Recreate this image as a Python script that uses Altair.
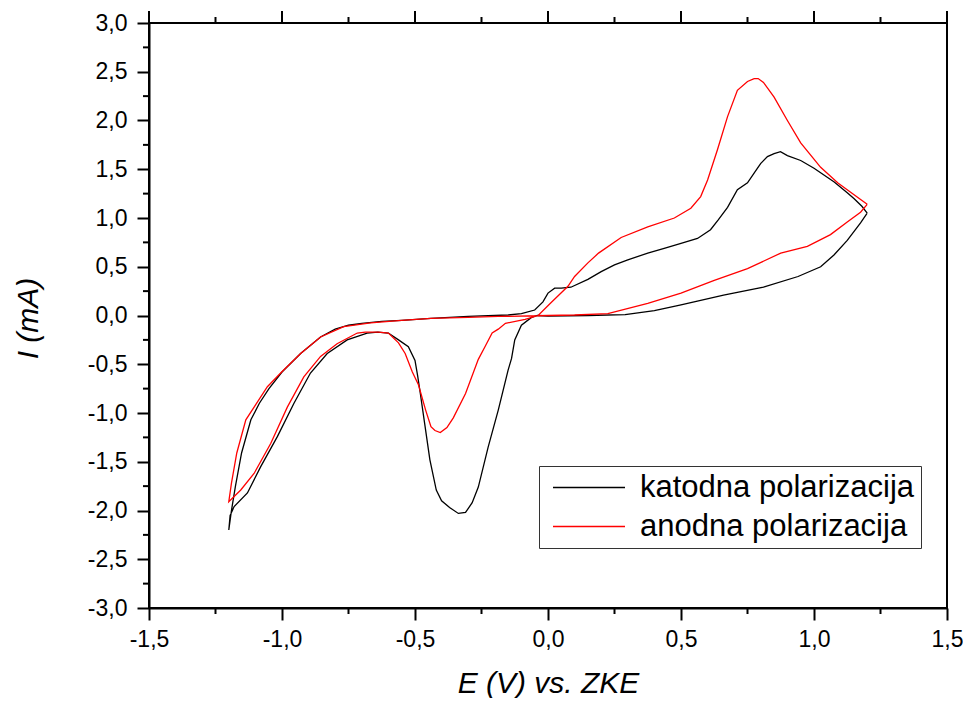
import altair as alt
import pandas as pd

series_names = ["katodna polarizacija", "anodna polarizacija"]
series_colors = ["#000000", "#ff0000"]

# katodna polarizacija (black) - path order around the loop
kat_E = [1.20, 1.18, 1.15, 1.125, 1.076, 1.00, 0.95, 0.90, 0.874, 0.85, 0.825, 0.80, 0.787, 0.75, 0.712,
         0.675, 0.64, 0.611, 0.562, 0.50, 0.44, 0.375, 0.30, 0.25, 0.20, 0.15, 0.086, 0.05, 0.025, 0.0,
         -0.019, -0.05, -0.10, -0.15, -0.30, -0.44, -0.55, -0.625, -0.70, -0.75, -0.80, -0.855, -0.93,
         -1.0, -1.049, -1.085, -1.117, -1.152, -1.175, -1.19, -1.20,
         -1.195, -1.18, -1.13, -1.08, -1.017, -0.955, -0.893, -0.83, -0.755, -0.68, -0.64, -0.60, -0.562,
         -0.525, -0.50, -0.49, -0.48, -0.462, -0.444, -0.42, -0.40, -0.37, -0.337, -0.31, -0.285, -0.262,
         -0.225, -0.187, -0.15, -0.137, -0.125, -0.10, -0.062, -0.04, 0.0, 0.15, 0.29, 0.40, 0.50, 0.66,
         0.81, 0.94, 1.025, 1.075, 1.125, 1.175, 1.20]
kat_I = [1.05, 1.12, 1.20, 1.26, 1.37, 1.51, 1.59, 1.64, 1.68, 1.66, 1.63, 1.56, 1.51, 1.36, 1.29,
         1.11, 0.98, 0.88, 0.79, 0.74, 0.69, 0.64, 0.57, 0.52, 0.45, 0.37, 0.29, 0.28, 0.28, 0.23,
         0.14, 0.056, 0.02, 0.005, -0.01, -0.03, -0.05, -0.06, -0.08, -0.10, -0.14, -0.22, -0.39,
         -0.58, -0.75, -0.90, -1.07, -1.41, -1.75, -2.0, -2.2,
         -2.05, -1.96, -1.82, -1.55, -1.24, -0.90, -0.59, -0.39, -0.25, -0.18, -0.17, -0.18, -0.25,
         -0.32, -0.46, -0.62, -0.80, -1.14, -1.48, -1.79, -1.90, -1.97, -2.03, -2.02, -1.92, -1.76,
         -1.35, -0.97, -0.56, -0.44, -0.25, -0.10, -0.02, 0.0, -0.005, 0.0, 0.01, 0.05, 0.11, 0.21,
         0.29, 0.40, 0.50, 0.62, 0.77, 0.95, 1.05]

# anodna polarizacija (red) - path order around the loop
an_E = [1.20, 1.17, 1.13, 1.09, 1.025, 0.95, 0.90, 0.85, 0.81, 0.79, 0.775, 0.75, 0.712, 0.675, 0.637,
        0.60, 0.574, 0.537, 0.475, 0.375, 0.275, 0.19, 0.15, 0.10, 0.075, 0.011, -0.037, -0.086, -0.16,
        -0.187, -0.21, -0.237, -0.262, -0.31, -0.356, -0.38, -0.405, -0.425, -0.44, -0.46, -0.487,
        -0.51, -0.537, -0.562, -0.60, -0.637, -0.687, -0.717, -0.793, -0.855, -0.918, -0.98, -1.042,
        -1.105, -1.155, -1.20,
        -1.19, -1.17, -1.136, -1.10, -1.055, -1.005, -0.93, -0.855, -0.768, -0.667, -0.55, -0.44,
        -0.30, -0.187, 0.0, 0.10, 0.225, 0.375, 0.50, 0.625, 0.75, 0.875, 0.975, 1.062, 1.125, 1.175, 1.20]
an_I = [1.14, 1.20, 1.28, 1.36, 1.52, 1.77, 2.00, 2.24, 2.39, 2.43, 2.43, 2.40, 2.31, 2.04, 1.70,
        1.39, 1.22, 1.10, 1.00, 0.91, 0.80, 0.64, 0.54, 0.40, 0.30, 0.13, 0.0, -0.04, -0.08,
        -0.14, -0.18, -0.32, -0.45, -0.80, -1.05, -1.15, -1.20, -1.18, -1.14, -0.97, -0.71,
        -0.58, -0.39, -0.28, -0.18, -0.17, -0.17, -0.18, -0.29, -0.42, -0.63, -0.94, -1.31,
        -1.62, -1.79, -1.91,
        -1.72, -1.41, -1.07, -0.92, -0.73, -0.59, -0.39, -0.22, -0.115, -0.075, -0.05, -0.03,
        -0.02, -0.01, 0.0, 0.005, 0.02, 0.125, 0.23, 0.36, 0.48, 0.64, 0.71, 0.83, 0.96, 1.06, 1.14]

x_major = [-1.5, -1.0, -0.5, 0.0, 0.5, 1.0, 1.5]
x_minor = [-1.25, -0.75, -0.25, 0.25, 0.75, 1.25]
y_major = [-3.0, -2.5, -2.0, -1.5, -1.0, -0.5, 0.0, 0.5, 1.0, 1.5, 2.0, 2.5, 3.0]
y_minor = [-2.75, -2.25, -1.75, -1.25, -0.75, -0.25, 0.25, 0.75, 1.25, 1.75, 2.25, 2.75]

rows = []
for name, Es, Is in [(series_names[0], kat_E, kat_I), (series_names[1], an_E, an_I)]:
    for k, (e, i) in enumerate(zip(Es, Is)):
        rows.append({"series": name, "E": e, "I": i, "seq": k})
df = pd.DataFrame(rows)

xscale = alt.Scale(domain=[-1.5, 1.5], nice=False, zero=False)
yscale = alt.Scale(domain=[-3.0, 3.0], nice=False, zero=False)
label_expr = "replace(replace(format(datum.value, '.1f'), '.', ','), '\u2212', '-')"

x_axis = alt.Axis(values=x_major, title="E (V) vs. ZKE", labelExpr=label_expr,
                  labelPadding=8, titleX=399, titleY=84, titleBaseline="alphabetic")
y_axis = alt.Axis(values=y_major, title="I (mA)", labelExpr=label_expr,
                  labelPadding=10, titleX=-121, titleY=295, titleAngle=270,
                  titleBaseline="middle")

lines = alt.Chart(df).mark_line(strokeWidth=1.3, clip=True).encode(
    x=alt.X("E:Q", scale=xscale, axis=x_axis),
    y=alt.Y("I:Q", scale=yscale, axis=y_axis),
    color=alt.Color("series:N",
                    scale=alt.Scale(domain=series_names, range=series_colors),
                    legend=alt.Legend(title=None, orient="none", legendX=390, legendY=443,
                                      symbolType="stroke", symbolSize=5184, symbolStrokeWidth=1.5,
                                      clipHeight=31, labelFontSize=31, labelFont="Liberation Sans",
                                      labelColor="black", labelOffset=14, labelLimit=0,
                                      padding=6, rowPadding=7, symbolOffset=7,
                                      strokeColor="#333333", fillColor="white")),
    order="seq:Q",
)

top_major = alt.Chart(pd.DataFrame({"E": x_major})).mark_rule(color="black", strokeWidth=2).encode(
    x=alt.X("E:Q", scale=xscale, axis=x_axis), y=alt.value(-12), y2=alt.value(0))
top_minor = alt.Chart(pd.DataFrame({"E": x_minor})).mark_rule(color="black", strokeWidth=2).encode(
    x=alt.X("E:Q", scale=xscale, axis=x_axis), y=alt.value(-6), y2=alt.value(0))
bottom_minor = alt.Chart(pd.DataFrame({"E": x_minor})).mark_rule(color="black", strokeWidth=2).encode(
    x=alt.X("E:Q", scale=xscale, axis=x_axis), y=alt.value(585), y2=alt.value(591))
left_minor = alt.Chart(pd.DataFrame({"I": y_minor})).mark_rule(color="black", strokeWidth=2).encode(
    y=alt.Y("I:Q", scale=yscale, axis=y_axis), x=alt.value(-6), x2=alt.value(0))

chart = alt.layer(lines, top_major, top_minor, bottom_minor, left_minor).properties(
    width=798, height=585,
    autosize=alt.AutoSizeParams(type="none"),
    padding={"left": 141, "top": 15, "right": 16, "bottom": 90},
).configure_view(
    stroke="black", strokeWidth=2
).configure_axis(
    domainColor="black", domainWidth=2, tickColor="black", tickWidth=2, tickSize=12,
    labelFont="Liberation Sans", labelFontSize=23, labelColor="black",
    labelOverlap=False, labelFlush=False, grid=False,
    titleFont="Liberation Sans", titleFontSize=30, titleFontStyle="italic",
    titleFontWeight="normal", titleColor="black",
)

chart.save("out.html", embed_options={"renderer": "svg", "actions": False})
